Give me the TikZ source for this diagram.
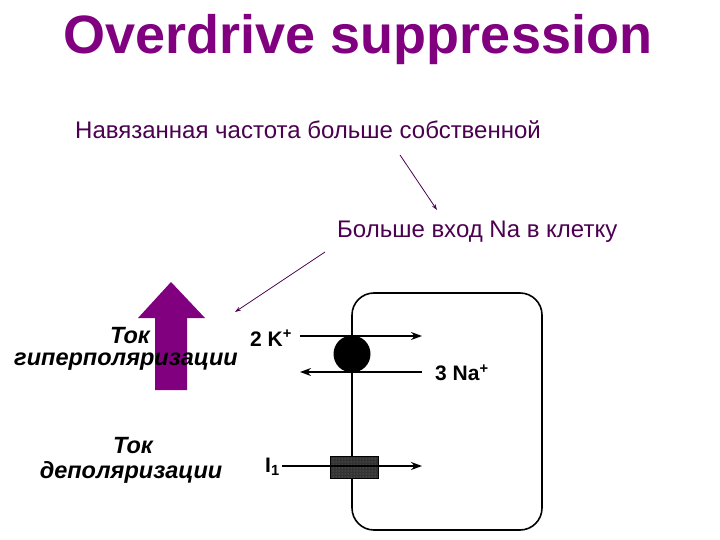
\documentclass[tikz,border=0pt]{standalone}
\usepackage{fontspec}
\setmainfont{Liberation Sans}
\usetikzlibrary{arrows.meta,patterns}
\definecolor{ttl}{RGB}{128,0,128}
\definecolor{dtxt}{RGB}{75,0,80}
\definecolor{bigarrow}{RGB}{128,0,128}
\begin{document}
\begin{tikzpicture}[x=1pt,y=-1pt,
  lbl/.style={font=\fontsize{23.5}{26}\selectfont\bfseries\itshape,inner sep=0pt},
  ion/.style={font=\fontsize{21}{23}\selectfont\bfseries,inner sep=0pt},
  ttxt/.style={font=\fontsize{24}{26}\selectfont,text=dtxt,inner sep=0pt},
  flow/.style={line width=1.6pt,-{Stealth[length=11pt,width=8pt]}},
  thin/.style={dtxt,line width=0.8pt,-{Stealth[length=6pt,width=4pt]}}]
\useasboundingbox (0,0) rectangle (720,540);
\node[font=\fontsize{54}{58}\selectfont\bfseries,text=ttl] (title) at (358,40) {Overdrive suppression};
\node[ttxt,anchor=west] (t1) at (75,130) {Навязанная частота больше собственной};
\node[ttxt,anchor=west] (t2) at (337,232) {Больше вход Na в клетку};
\coordinate (a1s) at (400,155); \coordinate (a1e) at (437,210);
\draw[thin] (a1s) -- (a1e);
\coordinate (a2s) at (325,252); \coordinate (a2e) at (235,312);
\draw[thin] (a2s) -- (a2e);
\fill[bigarrow] (155,390) -- (155,318) -- (138,318) -- (171,282) -- (205,318) -- (187,318) -- (187,390) -- cycle;
\node[lbl] (tok1) at (130,336) {Ток};
\node[lbl] (hyp) at (126,362) {гиперполяризации};
\node[lbl] (tok2) at (133,446) {Ток};
\node[lbl] (dep) at (131,472) {деполяризации};
\draw[line width=1.6pt,rounded corners=22pt] (352,293) rectangle (542,530);
\node[ion,anchor=west] (k) at (250,338) {2 K\textsuperscript{+}};
\node[ion,anchor=west] (na) at (435,373) {3 Na\textsuperscript{+}};
\node[ion,anchor=west] (i1) at (265,467) {I\textsubscript{1}};
\coordinate (kl) at (300,336); \coordinate (kr) at (422,336);
\coordinate (nl) at (300,372); \coordinate (nr) at (422,372);
\coordinate (il) at (282,466); \coordinate (ir) at (422,466);
\draw[flow] (kl) -- (kr);
\draw[flow] (nr) -- (nl);
\node[circle,fill=black,minimum size=37pt,inner sep=0pt] (pump) at (352,354) {};
\node[draw=black,fill=black!80,minimum width=48pt,minimum height=22pt,inner sep=0pt] (chan) at (354,467) {};
\fill[pattern=dots,pattern color=gray] (331,457) rectangle (377,477);
\draw[flow] (il) -- (ir);
\end{tikzpicture}
\end{document}
